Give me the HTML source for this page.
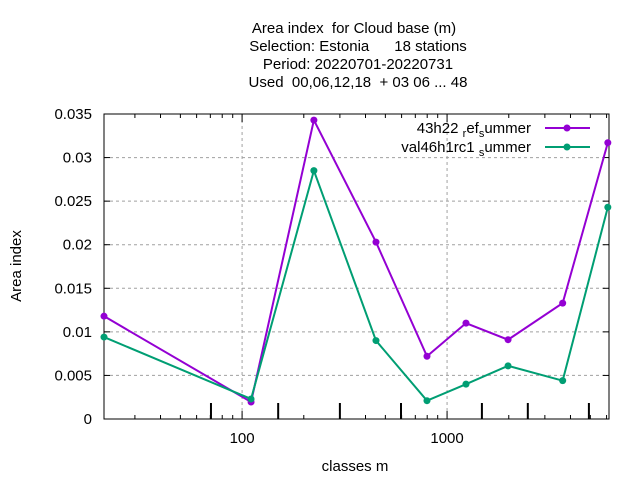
<!DOCTYPE html>
<html><head><meta charset="utf-8"><style>
body{margin:0;background:#fff;font-family:"Liberation Sans",sans-serif}
svg text{font-family:"Liberation Sans",sans-serif;font-size:15px;fill:#000;white-space:pre}
</style></head><body>
<svg id="c" width="640" height="480" xmlns="http://www.w3.org/2000/svg" xml:space="preserve">
<g text-anchor="middle">
<text x="354" y="33">Area index  for Cloud base (m)</text>
<text x="358" y="51">Selection: Estonia      18 stations</text>
<text x="358" y="69">Period: 20220701-20220731</text>
<text x="358" y="87">Used  00,06,12,18  + 03 06 ... 48</text>
</g>
<text x="355" y="471" text-anchor="middle">classes m</text>
<text transform="translate(21,266) rotate(-90)" text-anchor="middle">Area index</text>
<g id="grid"></g><g id="axes"></g><g id="series"></g>
<g>
<text x="531" y="133" text-anchor="end">43h22 <tspan font-size="11" dy="4">r</tspan><tspan dy="-4">ef</tspan><tspan font-size="11" dy="4">s</tspan><tspan dy="-4">ummer</tspan></text>
<line x1="545" y1="128" x2="590" y2="128" stroke="#9400d3" stroke-width="2"/>
<circle cx="567" cy="128" r="3.5" fill="#9400d3"/>
<text x="531" y="152" text-anchor="end">val46h1rc1 <tspan font-size="11" dy="4">s</tspan><tspan dy="-4">ummer</tspan></text>
<line x1="545" y1="147" x2="590" y2="147" stroke="#009e73" stroke-width="2"/>
<circle cx="567" cy="147" r="3.5" fill="#009e73"/>
</g>
</svg>
<script>
const xValues=[21.2,110.6,224,450,798,1237,1984,3664,6085];
const seriesA=[0.0118,0.00195,0.0343,0.0203,0.0072,0.0110,0.0091,0.0133,0.0317];
const seriesB=[0.0094,0.0023,0.0285,0.0090,0.0021,0.0040,0.0061,0.0044,0.0243];
const yTicks=[0,0.005,0.01,0.015,0.02,0.025,0.03,0.035];
const yTickLabels=["0","0.005","0.01","0.015","0.02","0.025","0.03","0.035"];
const xTicks=[100,1000];
const xTickLabels=["100","1000"];
const markTicks=[70.5,150,300,596,1479,2477,4920];
const L=104,R=609,T=114,B=419,xmin=21.2,xmax=6166,ymax=0.035;
const ns="http://www.w3.org/2000/svg";
function X(v){return L+(Math.log10(v)-Math.log10(xmin))/(Math.log10(xmax)-Math.log10(xmin))*(R-L);}
function Y(v){return B-v/ymax*(B-T);}
function mk(t,a,p){const e=document.createElementNS(ns,t);for(const k in a)e.setAttribute(k,a[k]);p.appendChild(e);return e;}
const g=document.getElementById('grid'),ax=document.getElementById('axes'),s=document.getElementById('series');
yTicks.forEach((v,i)=>{const y=Y(v);
 if(i>0&&i<yTicks.length-1){const l=mk('line',{x1:L,x2:R,y1:y,y2:y,stroke:'#a0a0a0','stroke-dasharray':'3,3'},g);
 
 }
 mk('line',{x1:L,x2:L+6,y1:y,y2:y,stroke:'#000'},ax);mk('line',{x1:R,x2:R-6,y1:y,y2:y,stroke:'#000'},ax);
 const t=mk('text',{x:L-12,y:y+5,'text-anchor':'end'},ax);t.textContent=yTickLabels[i];
 
 });
xTicks.forEach((v,i)=>{const x=X(v);
 const l=mk('line',{x1:x,x2:x,y1:T,y2:B,stroke:'#a0a0a0','stroke-dasharray':'3,3'},g);
 
 
 mk('line',{x1:x,x2:x,y1:B,y2:B-8,stroke:'#000'},ax);mk('line',{x1:x,x2:x,y1:T,y2:T+8,stroke:'#000'},ax);
 const t=mk('text',{x:x,y:B+24,'text-anchor':'middle'},ax);t.textContent=xTickLabels[i];
 
 });
for(let d=10;d<10000;d*=10)for(let k=2;k<10;k++){const v=d*k;if(v<xmin||v>xmax)continue;const x=X(v);
 mk('line',{x1:x,x2:x,y1:B,y2:B-4,stroke:'#000'},ax);mk('line',{x1:x,x2:x,y1:T,y2:T+4,stroke:'#000'},ax);}
markTicks.forEach(v=>{const x=X(v);const l=mk('line',{x1:x,x2:x,y1:B,y2:B-16,stroke:'#000','stroke-width':2},ax);
 
 });
const f=mk('rect',{x:L,y:T,width:R-L,height:B-T,fill:'none',stroke:'#000'},ax);


[[seriesA,'#9400d3','series-43h22'],[seriesB,'#009e73','series-val46h1rc1']].forEach(([d,c,n])=>{
 const pl=mk('polyline',{points:d.map((v,i)=>X(xValues[i])+','+Y(v)).join(' '),fill:'none',stroke:c,'stroke-width':2},s);
 
 
 d.forEach((v,i)=>{const m=mk('circle',{cx:X(xValues[i]),cy:Y(v),r:3.5,fill:c},s);
 
 });});
</script>
</body></html>
